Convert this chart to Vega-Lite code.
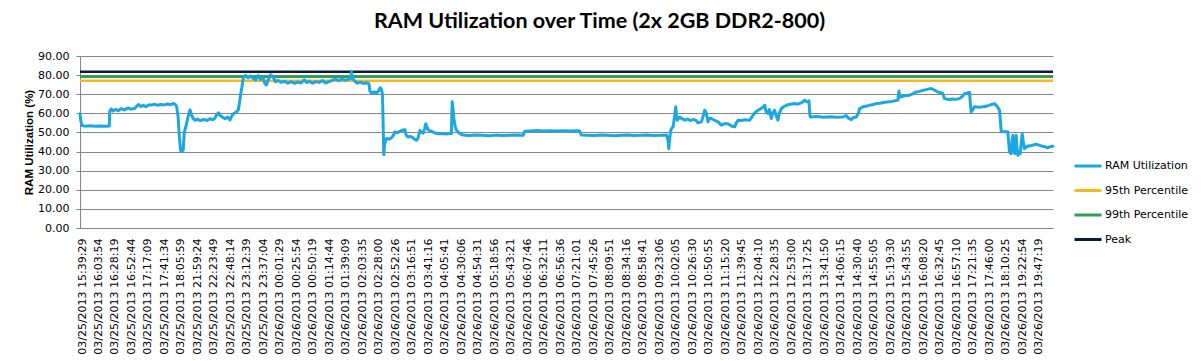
{
  "$schema": "https://vega.github.io/schema/vega-lite/v6.json",
  "width": 973,
  "height": 172,
  "autosize": {"type": "none"},
  "padding": {"left": 80, "top": 56, "right": 148, "bottom": 133},
  "background": "white",
  "title": {
    "text": "RAM Utilization over Time (2x 2GB DDR2-800)",
    "font": "Lato",
    "fontSize": 21.5,
    "fontWeight": "bold",
    "color": "#000000",
    "anchor": "middle",
    "frame": "group",
    "dx": 33,
    "baseline": "alphabetic",
    "offset": 1
  },
  "config": {
    "view": {"stroke": null},
    "axis": {"labelFont": "DejaVu Sans", "labelFontSize": 11, "labelColor": "#000000"},
    "legend": {
      "title": null,
      "orient": "none",
      "legendX": 993,
      "legendY": 95,
      "symbolType": "stroke",
      "symbolSize": 729,
      "symbolStrokeWidth": 3,
      "labelFont": "DejaVu Sans",
      "labelFontSize": 11,
      "labelColor": "#000000",
      "labelOffset": 2,
      "rowPadding": 3.5
    }
  },
  "datasets": {
    "ram": [
      {"i": 0.00, "v": 59.8}, {"i": 0.05, "v": 56}, {"i": 0.12, "v": 53.6}, {"i": 0.3, "v": 53.3}, {"i": 0.6, "v": 53.5},
      {"i": 0.9, "v": 53.3}, {"i": 1.2, "v": 53.4}, {"i": 1.5, "v": 53.2}, {"i": 1.78, "v": 53.4}, {"i": 1.80, "v": 61.0},
      {"i": 1.9, "v": 62.3}, {"i": 2.0, "v": 61.2}, {"i": 2.15, "v": 62.0}, {"i": 2.32, "v": 61.4}, {"i": 2.5, "v": 62.5},
      {"i": 2.7, "v": 61.8}, {"i": 2.9, "v": 62.8}, {"i": 3.1, "v": 62.2}, {"i": 3.33, "v": 62.6}, {"i": 3.45, "v": 63.8},
      {"i": 3.54, "v": 64.6}, {"i": 3.7, "v": 63.6}, {"i": 3.85, "v": 64.2}, {"i": 4.0, "v": 63.5}, {"i": 4.2, "v": 64.5},
      {"i": 4.34, "v": 64.3}, {"i": 4.5, "v": 64.8}, {"i": 4.7, "v": 64.2}, {"i": 4.9, "v": 64.6}, {"i": 5.1, "v": 64.4},
      {"i": 5.3, "v": 64.9}, {"i": 5.5, "v": 64.5}, {"i": 5.66, "v": 65.2}, {"i": 5.78, "v": 64.6}, {"i": 5.86, "v": 63.4},
      {"i": 5.95, "v": 58}, {"i": 6.02, "v": 48}, {"i": 6.10, "v": 40.5}, {"i": 6.2, "v": 40.2}, {"i": 6.26, "v": 41},
      {"i": 6.32, "v": 50}, {"i": 6.42, "v": 53}, {"i": 6.55, "v": 58}, {"i": 6.67, "v": 61.8}, {"i": 6.75, "v": 59.5},
      {"i": 6.85, "v": 57.5}, {"i": 6.97, "v": 56.4}, {"i": 7.1, "v": 57}, {"i": 7.3, "v": 56.2}, {"i": 7.5, "v": 56.8},
      {"i": 7.7, "v": 56.3}, {"i": 7.9, "v": 57.2}, {"i": 8.05, "v": 56.6}, {"i": 8.18, "v": 57.5}, {"i": 8.3, "v": 59.5},
      {"i": 8.4, "v": 60.3}, {"i": 8.48, "v": 59}, {"i": 8.6, "v": 58.2}, {"i": 8.79, "v": 57.2}, {"i": 8.95, "v": 58},
      {"i": 9.09, "v": 56.5}, {"i": 9.2, "v": 58.5}, {"i": 9.3, "v": 59.8}, {"i": 9.39, "v": 60.2}, {"i": 9.5, "v": 60.8},
      {"i": 9.60, "v": 61.8}, {"i": 9.68, "v": 66}, {"i": 9.74, "v": 70}, {"i": 9.82, "v": 73.8}, {"i": 9.88, "v": 77.6},
      {"i": 9.95, "v": 79.5}, {"i": 10.05, "v": 79.8}, {"i": 10.2, "v": 78.6}, {"i": 10.35, "v": 79.6}, {"i": 10.5, "v": 78.2},
      {"i": 10.65, "v": 77.4}, {"i": 10.8, "v": 79.8}, {"i": 10.95, "v": 77.8}, {"i": 11.1, "v": 78.6}, {"i": 11.2, "v": 75.8},
      {"i": 11.3, "v": 74.8}, {"i": 11.4, "v": 77.2}, {"i": 11.55, "v": 80.2}, {"i": 11.7, "v": 79.2}, {"i": 11.85, "v": 76.5},
      {"i": 12.0, "v": 77.2}, {"i": 12.2, "v": 76.2}, {"i": 12.4, "v": 76.8}, {"i": 12.6, "v": 75.8}, {"i": 12.8, "v": 76.6},
      {"i": 13.0, "v": 75.7}, {"i": 13.2, "v": 76.4}, {"i": 13.4, "v": 75.9}, {"i": 13.6, "v": 77.5}, {"i": 13.75, "v": 76.1},
      {"i": 13.9, "v": 76.8}, {"i": 14.1, "v": 75.8}, {"i": 14.3, "v": 76.6}, {"i": 14.5, "v": 76.2}, {"i": 14.7, "v": 77.2},
      {"i": 14.9, "v": 75.9}, {"i": 15.1, "v": 76.6}, {"i": 15.3, "v": 77.4}, {"i": 15.5, "v": 77.9}, {"i": 15.7, "v": 77.1},
      {"i": 15.9, "v": 78.0}, {"i": 16.1, "v": 77.3}, {"i": 16.3, "v": 77.9}, {"i": 16.42, "v": 78.4}, {"i": 16.46, "v": 81.8},
      {"i": 16.52, "v": 78.2}, {"i": 16.65, "v": 77.0}, {"i": 16.8, "v": 75.8}, {"i": 17.0, "v": 76.3}, {"i": 17.2, "v": 75.6},
      {"i": 17.4, "v": 76.0}, {"i": 17.52, "v": 75.4}, {"i": 17.58, "v": 71.5}, {"i": 17.7, "v": 70.6}, {"i": 17.85, "v": 71.2},
      {"i": 18.0, "v": 70.5}, {"i": 18.1, "v": 71.8}, {"i": 18.2, "v": 73.4}, {"i": 18.28, "v": 72.5}, {"i": 18.34, "v": 70},
      {"i": 18.38, "v": 55}, {"i": 18.42, "v": 38.3}, {"i": 18.47, "v": 44}, {"i": 18.59, "v": 46.8}, {"i": 18.75, "v": 46.5},
      {"i": 18.89, "v": 47.2}, {"i": 19.0, "v": 48.5}, {"i": 19.09, "v": 50.3}, {"i": 19.25, "v": 49.8}, {"i": 19.39, "v": 50.6},
      {"i": 19.55, "v": 51.2}, {"i": 19.70, "v": 51.4}, {"i": 19.78, "v": 48.5}, {"i": 19.9, "v": 47.6}, {"i": 20.05, "v": 47.9},
      {"i": 20.2, "v": 47.2}, {"i": 20.3, "v": 46.4}, {"i": 20.40, "v": 45.9}, {"i": 20.5, "v": 47.0}, {"i": 20.61, "v": 51.0},
      {"i": 20.7, "v": 50.2}, {"i": 20.81, "v": 49.6}, {"i": 20.9, "v": 52}, {"i": 20.97, "v": 54.6}, {"i": 21.05, "v": 52.5},
      {"i": 21.11, "v": 51.2}, {"i": 21.25, "v": 50.8}, {"i": 21.41, "v": 50.2}, {"i": 21.6, "v": 49.5}, {"i": 21.82, "v": 49.3},
      {"i": 22.0, "v": 49.5}, {"i": 22.2, "v": 49.2}, {"i": 22.4, "v": 49.4}, {"i": 22.52, "v": 49.4}, {"i": 22.55, "v": 60},
      {"i": 22.57, "v": 66.0}, {"i": 22.62, "v": 62}, {"i": 22.67, "v": 57.3}, {"i": 22.75, "v": 53}, {"i": 22.83, "v": 51.2},
      {"i": 22.93, "v": 50.2}, {"i": 23.03, "v": 49.4}, {"i": 23.23, "v": 48.6}, {"i": 23.6, "v": 48.4}, {"i": 24.0, "v": 48.6},
      {"i": 24.4, "v": 48.5}, {"i": 24.8, "v": 48.3}, {"i": 25.2, "v": 48.6}, {"i": 25.6, "v": 48.4}, {"i": 26.0, "v": 48.5},
      {"i": 26.4, "v": 48.6}, {"i": 26.87, "v": 48.5}, {"i": 26.97, "v": 50.6}, {"i": 27.3, "v": 50.8}, {"i": 27.7, "v": 51.0},
      {"i": 28.1, "v": 50.7}, {"i": 28.5, "v": 50.9}, {"i": 28.9, "v": 50.8}, {"i": 29.3, "v": 50.9}, {"i": 29.7, "v": 50.7},
      {"i": 30.1, "v": 50.9}, {"i": 30.30, "v": 50.7}, {"i": 30.40, "v": 48.6}, {"i": 30.8, "v": 48.5}, {"i": 31.2, "v": 48.4},
      {"i": 31.6, "v": 48.6}, {"i": 32.0, "v": 48.5}, {"i": 32.4, "v": 48.3}, {"i": 32.8, "v": 48.5}, {"i": 33.2, "v": 48.7},
      {"i": 33.6, "v": 48.4}, {"i": 34.0, "v": 48.5}, {"i": 34.4, "v": 48.6}, {"i": 34.8, "v": 48.4}, {"i": 35.2, "v": 48.5},
      {"i": 35.56, "v": 48.7}, {"i": 35.66, "v": 45.9}, {"i": 35.70, "v": 41.5}, {"i": 35.76, "v": 47}, {"i": 35.82, "v": 51.0},
      {"i": 35.9, "v": 52.5}, {"i": 35.96, "v": 52.9}, {"i": 36.05, "v": 58}, {"i": 36.12, "v": 63.4}, {"i": 36.17, "v": 59},
      {"i": 36.22, "v": 56.4}, {"i": 36.36, "v": 58.1}, {"i": 36.5, "v": 57.2}, {"i": 36.67, "v": 56.4}, {"i": 36.85, "v": 57.0},
      {"i": 37.0, "v": 56.2}, {"i": 37.2, "v": 56.8}, {"i": 37.37, "v": 56.2}, {"i": 37.47, "v": 55.0}, {"i": 37.6, "v": 55.4},
      {"i": 37.68, "v": 55.5}, {"i": 37.8, "v": 59}, {"i": 37.88, "v": 61.6}, {"i": 37.98, "v": 59.9}, {"i": 38.08, "v": 55.5},
      {"i": 38.18, "v": 57.5}, {"i": 38.28, "v": 57.3}, {"i": 38.45, "v": 56.5}, {"i": 38.69, "v": 55.5}, {"i": 38.89, "v": 53.8},
      {"i": 39.1, "v": 54.6}, {"i": 39.29, "v": 54.6}, {"i": 39.5, "v": 53.4}, {"i": 39.70, "v": 52.9}, {"i": 39.8, "v": 55},
      {"i": 39.90, "v": 56.4}, {"i": 40.1, "v": 56.2}, {"i": 40.3, "v": 56.6}, {"i": 40.61, "v": 56.4}, {"i": 40.81, "v": 59.0},
      {"i": 40.95, "v": 60.5}, {"i": 41.11, "v": 61.6}, {"i": 41.3, "v": 62.5}, {"i": 41.52, "v": 64.2}, {"i": 41.6, "v": 61},
      {"i": 41.72, "v": 59.9}, {"i": 41.8, "v": 62}, {"i": 41.92, "v": 57.3}, {"i": 42.0, "v": 60}, {"i": 42.12, "v": 61.6},
      {"i": 42.2, "v": 59}, {"i": 42.32, "v": 56.4}, {"i": 42.4, "v": 60}, {"i": 42.53, "v": 62.5}, {"i": 42.7, "v": 63.6},
      {"i": 42.83, "v": 64.2}, {"i": 43.0, "v": 64.6}, {"i": 43.33, "v": 65.1}, {"i": 43.5, "v": 64.8}, {"i": 43.74, "v": 65.5},
      {"i": 43.94, "v": 66.9}, {"i": 44.05, "v": 66.2}, {"i": 44.14, "v": 66.0}, {"i": 44.2, "v": 66.6}, {"i": 44.26, "v": 59},
      {"i": 44.30, "v": 58.1}, {"i": 44.7, "v": 58.3}, {"i": 45.1, "v": 57.9}, {"i": 45.5, "v": 58.2}, {"i": 45.9, "v": 58.0},
      {"i": 46.26, "v": 58.1}, {"i": 46.46, "v": 58.8}, {"i": 46.6, "v": 57.5}, {"i": 46.77, "v": 56.7}, {"i": 46.9, "v": 57.8},
      {"i": 47.07, "v": 58.1}, {"i": 47.2, "v": 60}, {"i": 47.27, "v": 62.5}, {"i": 47.47, "v": 63.4}, {"i": 47.7, "v": 63.8},
      {"i": 47.9, "v": 64.3}, {"i": 48.1, "v": 64.6}, {"i": 48.28, "v": 65.1}, {"i": 48.5, "v": 65.3}, {"i": 48.8, "v": 65.8},
      {"i": 49.09, "v": 66.0}, {"i": 49.3, "v": 66.4}, {"i": 49.60, "v": 66.9}, {"i": 49.63, "v": 70}, {"i": 49.66, "v": 71.7},
      {"i": 49.72, "v": 68.5}, {"i": 49.80, "v": 68.6}, {"i": 50.0, "v": 69.2}, {"i": 50.30, "v": 69.5}, {"i": 50.5, "v": 70.2},
      {"i": 50.71, "v": 71.2}, {"i": 50.9, "v": 71.5}, {"i": 51.1, "v": 72.0}, {"i": 51.31, "v": 72.4}, {"i": 51.5, "v": 72.8},
      {"i": 51.62, "v": 73.0}, {"i": 51.8, "v": 72.2}, {"i": 52.02, "v": 71.2}, {"i": 52.2, "v": 70.8}, {"i": 52.32, "v": 70.3},
      {"i": 52.42, "v": 67.7}, {"i": 52.6, "v": 67.4}, {"i": 52.73, "v": 67.2}, {"i": 52.9, "v": 67.5}, {"i": 53.1, "v": 67.3},
      {"i": 53.33, "v": 67.7}, {"i": 53.5, "v": 68.8}, {"i": 53.64, "v": 70.3}, {"i": 53.8, "v": 70.6}, {"i": 53.94, "v": 70.9},
      {"i": 53.99, "v": 65}, {"i": 54.04, "v": 60.7}, {"i": 54.14, "v": 62}, {"i": 54.24, "v": 63.4}, {"i": 54.5, "v": 63.2},
      {"i": 54.75, "v": 63.4}, {"i": 55.0, "v": 63.8}, {"i": 55.2, "v": 64.4}, {"i": 55.45, "v": 65.1}, {"i": 55.6, "v": 63.8},
      {"i": 55.76, "v": 61.6}, {"i": 55.82, "v": 55}, {"i": 55.86, "v": 50.3}, {"i": 56.1, "v": 50.4}, {"i": 56.26, "v": 50.3},
      {"i": 56.36, "v": 39.8}, {"i": 56.46, "v": 38.9}, {"i": 56.52, "v": 46}, {"i": 56.57, "v": 48.5}, {"i": 56.62, "v": 42},
      {"i": 56.67, "v": 38.9}, {"i": 56.72, "v": 45}, {"i": 56.77, "v": 48.5}, {"i": 56.82, "v": 42}, {"i": 56.87, "v": 38.0},
      {"i": 57.01, "v": 38.9}, {"i": 57.13, "v": 49.4}, {"i": 57.2, "v": 45}, {"i": 57.27, "v": 41.5}, {"i": 57.35, "v": 42.3},
      {"i": 57.47, "v": 42.8}, {"i": 57.7, "v": 43.2}, {"i": 57.98, "v": 43.8}, {"i": 58.2, "v": 43.2}, {"i": 58.38, "v": 42.8},
      {"i": 58.55, "v": 42.4}, {"i": 58.69, "v": 42.0}, {"i": 58.85, "v": 42.6}, {"i": 58.99, "v": 42.8}
    ],
    "refs": [
      {"series": "95th Percentile", "value": 77.0},
      {"series": "99th Percentile", "value": 79.2},
      {"series": "Peak", "value": 81.8}
    ]
  },
  "layer": [
    {
      "data": {"name": "refs"},
      "mark": {"type": "rule", "strokeWidth": 2.5},
      "encoding": {
        "y": {
          "field": "value",
          "type": "quantitative",
          "scale": {"domain": [0, 90], "nice": false},
          "axis": {
            "title": "RAM Utilization  (%)",
            "titleFont": "Liberation Sans",
            "titleFontSize": 11.5,
            "titleFontWeight": "bold",
            "titleColor": "#000000",
            "titlePadding": 3,
            "values": [0,10,20,30,40,50,60,70,80,90],
            "tickCount": 10,
            "format": ".2f",
            "labelOverlap": false,
            "labelFlush": false,
            "labelBound": false,
            "grid": true,
            "gridColor": "#868686",
            "gridWidth": 1,
            "domainColor": "#868686",
            "tickColor": "#868686",
            "tickSize": 4,
            "labelPadding": 7
          }
        },
        "color": {"field": "series", "type": "nominal", "title": null}
      }
    },
    {
      "data": {"name": "ram"},
      "mark": {"type": "line", "strokeWidth": 3, "strokeJoin": "round", "strokeCap": "round"},
      "encoding": {
        "x": {
          "field": "i",
          "type": "quantitative",
          "scale": {"domain": [0, 59], "nice": false, "zero": false},
          "axis": {
            "title": null,
            "grid": false,
            "ticks": false,
            "domainColor": "#868686",
            "domainWidth": 1,
            "values": [0,1,2,3,4,5,6,7,8,9,10,11,12,13,14,15,16,17,18,19,20,21,22,23,24,25,26,27,28,29,30,31,32,33,34,35,36,37,38,39,40,41,42,43,44,45,46,47,48,49,50,51,52,53,54,55,56,57,58],
            "labelExpr": "['03/25/2013 15:39:29','03/25/2013 16:03:54','03/25/2013 16:28:19','03/25/2013 16:52:44','03/25/2013 17:17:09','03/25/2013 17:41:34','03/25/2013 18:05:59','03/25/2013 21:59:24','03/25/2013 22:23:49','03/25/2013 22:48:14','03/25/2013 23:12:39','03/25/2013 23:37:04','03/26/2013 00:01:29','03/26/2013 00:25:54','03/26/2013 00:50:19','03/26/2013 01:14:44','03/26/2013 01:39:09','03/26/2013 02:03:35','03/26/2013 02:28:00','03/26/2013 02:52:26','03/26/2013 03:16:51','03/26/2013 03:41:16','03/26/2013 04:05:41','03/26/2013 04:30:06','03/26/2013 04:54:31','03/26/2013 05:18:56','03/26/2013 05:43:21','03/26/2013 06:07:46','03/26/2013 06:32:11','03/26/2013 06:56:36','03/26/2013 07:21:01','03/26/2013 07:45:26','03/26/2013 08:09:51','03/26/2013 08:34:16','03/26/2013 08:58:41','03/26/2013 09:23:06','03/26/2013 10:02:05','03/26/2013 10:26:30','03/26/2013 10:50:55','03/26/2013 11:15:20','03/26/2013 11:39:45','03/26/2013 12:04:10','03/26/2013 12:28:35','03/26/2013 12:53:00','03/26/2013 13:17:25','03/26/2013 13:41:50','03/26/2013 14:06:15','03/26/2013 14:30:40','03/26/2013 14:55:05','03/26/2013 15:19:30','03/26/2013 15:43:55','03/26/2013 16:08:20','03/26/2013 16:32:45','03/26/2013 16:57:10','03/26/2013 17:21:35','03/26/2013 17:46:00','03/26/2013 18:10:25','03/26/2013 19:22:54','03/26/2013 19:47:19'][datum.value]",
            "labelAngle": 270,
            "labelAlign": "right",
            "labelBaseline": "middle",
            "labelPadding": 10,
            "labelOffset": 2,
            "labelOverlap": false,
            "labelFlush": false,
            "labelBound": false
          }
        },
        "y": {
          "field": "v",
          "type": "quantitative",
          "scale": {"domain": [0, 90], "nice": false}
        },
        "color": {
          "datum": "RAM Utilization",
          "type": "nominal",
          "title": null,
          "scale": {
            "domain": ["RAM Utilization", "95th Percentile", "99th Percentile", "Peak"],
            "range": ["#1BA7E2", "#F4B91D", "#27A150", "#0D1A3A"]
          }
        }
      }
    }
  ]
}
